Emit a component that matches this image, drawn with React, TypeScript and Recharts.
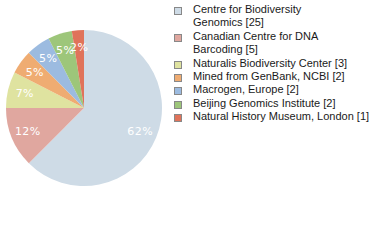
import { PieChart, Pie, Cell } from 'recharts';

const institutions = [
  'Centre for Biodiversity Genomics',
  'Canadian Centre for DNA Barcoding',
  'Naturalis Biodiversity Center',
  'Mined from GenBank, NCBI',
  'Macrogen, Europe',
  'Beijing Genomics Institute',
  'Natural History Museum, London',
];
const counts = [25, 5, 3, 2, 2, 2, 1];
const legendLines = [
  ['Centre for Biodiversity', 'Genomics [25]'],
  ['Canadian Centre for DNA', 'Barcoding [5]'],
  ['Naturalis Biodiversity Center [3]'],
  ['Mined from GenBank, NCBI [2]'],
  ['Macrogen, Europe [2]'],
  ['Beijing Genomics Institute [2]'],
  ['Natural History Museum, London [1]'],
];
const colors = ['#cedbe6', '#e0a79f', '#dfe3a0', '#efac72', '#9cbbe0', '#9dc67a', '#e0735a'];

const total = counts.reduce((a, b) => a + b, 0);
const data = institutions.map((name, i) => ({ name, value: counts[i] }));

const RADIAN = Math.PI / 180;

// percent labels sit well inside the slice
const renderLabel = (props: any) => {
  const { cx, cy, midAngle, outerRadius, value } = props;
  const r = outerRadius * 0.78;
  const x = cx + r * Math.cos(-midAngle * RADIAN);
  const y = cy + r * Math.sin(-midAngle * RADIAN);
  return (
    <text
      x={x}
      y={y}
      fill="#ffffff"
      textAnchor="middle"
      dominantBaseline="central"
      fontSize={11}
      fontFamily="DejaVu Sans"
      letterSpacing={0.4}
    >
      {Math.floor((value / total) * 100)}%
    </text>
  );
};

export default function App() {
  return (
    <div style={{ position: 'absolute', left: 0, top: 0, width: 380, height: 240, background: '#fff' }}>
      <PieChart width={170} height={220} margin={{ top: 0, right: 0, bottom: 0, left: 0 }}>
        <Pie
          data={data}
          dataKey="value"
          cx={84}
          cy={108}
          outerRadius={78}
          startAngle={90}
          endAngle={-270}
          stroke="none"
          label={renderLabel}
          labelLine={false}
          isAnimationActive={false}
        >
          {data.map((d, i) => (
            <Cell key={d.name} fill={colors[i]} />
          ))}
        </Pie>
      </PieChart>
      <div
        style={{
          position: 'absolute',
          left: 174,
          top: 3,
          fontFamily: 'Liberation Sans',
          fontSize: 11,
          lineHeight: '13.4px',
          color: '#1a1a1a',
        }}
      >
        {legendLines.map((lines, i) => (
          <div key={i} style={{ position: 'relative', paddingLeft: 19 }}>
            <span
              style={{
                position: 'absolute',
                left: 0,
                top: 4,
                width: 6,
                height: 6,
                border: '1px solid #888',
                background: colors[i],
              }}
            />
            {lines.map((l) => (
              <div key={l} style={{ whiteSpace: 'nowrap' }}>{l}</div>
            ))}
          </div>
        ))}
      </div>
    </div>
  );
}
